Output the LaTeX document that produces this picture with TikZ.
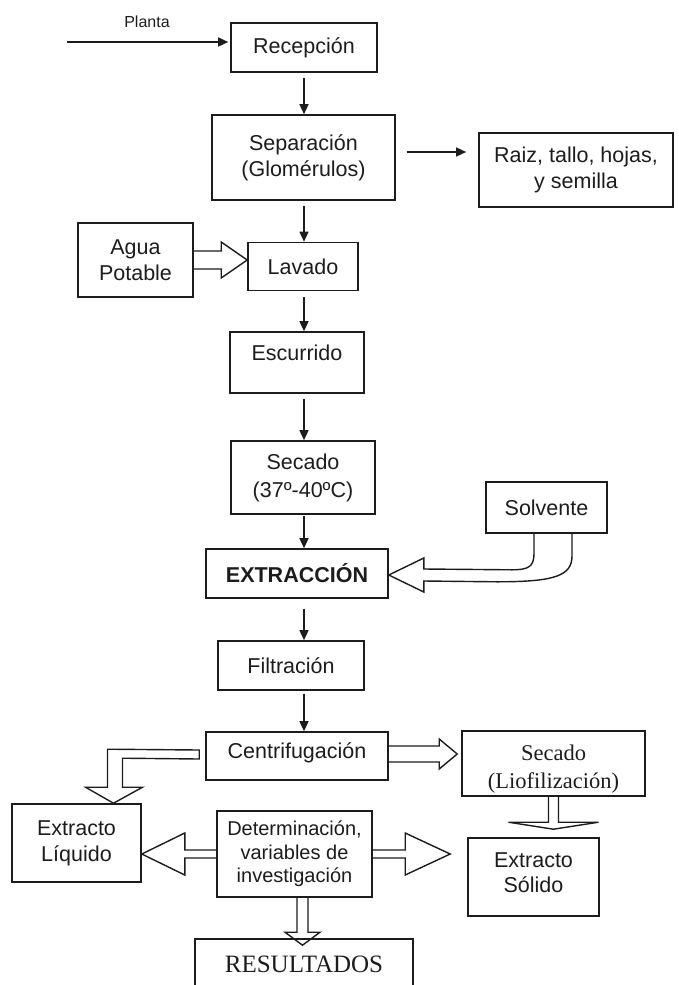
\documentclass[tikz,border=0pt]{standalone}
\usepackage{fontspec}
\setmainfont{Liberation Sans}
\newfontfamily\romanface{Liberation Serif}
\usetikzlibrary{arrows.meta,calc}
\definecolor{ink}{RGB}{28,28,28}

\begin{document}
\begin{tikzpicture}[x=1pt,y=-1pt,
  every node/.style={text=ink},
  box/.style={draw=ink,line width=1.6pt,inner sep=0pt,align=center,
    font=\fontsize{21.5}{26}\selectfont},
  romanbox/.style={box,font=\romanface\fontsize{24}{28}\selectfont},
  arr/.style={draw=ink,line width=1.4pt,-{Triangle[length=10pt,width=9pt]}},
  hollow/.style={draw=ink,line width=1.4pt,line join=miter}]

\useasboundingbox (0,0) rectangle (678,985);

% process boxes
\node[box,minimum width=146pt,minimum height=49pt] (rec) at (304,47.5) {Recepción};
\node[box,minimum width=183pt,minimum height=85pt] (sep) at (303.5,157.5) {Separación\\(Glomérulos)};
\node[box,minimum width=194pt,minimum height=74pt] (raiz) at (576,170) {Raiz, tallo, hojas,\\y semilla};
\node[box,minimum width=115pt,minimum height=74pt] (agua) at (135.5,260) {Agua\\Potable};
\node[box,minimum width=110pt,minimum height=48pt] (lav) at (303,266.5) {Lavado};
\node[box,minimum width=134pt,minimum height=61pt,text depth=19pt] (esc) at (297,362.5) {Escurrido};
\node[box,minimum width=144pt,minimum height=73pt,font=\fontsize{21.5}{28}\selectfont] (sec) at (303,477.5) {Secado\\(37º-40ºC)};
\node[box,minimum width=121pt,minimum height=51pt] (solv) at (546.5,507.5) {Solvente};
\node[box,minimum width=182pt,minimum height=49pt,font=\bfseries\fontsize{21.5}{26}\selectfont] (ext) at (297,573.5) {EXTRACCIÓN};
\node[box,minimum width=146pt,minimum height=49pt] (fil) at (291,665.5) {Filtración};
\node[box,minimum width=182pt,minimum height=48pt,text depth=10pt] (cen) at (297,756) {Centrifugación};
% the two lines sit low in this box, against its bottom edge
\node[box,align=none,minimum width=183pt,minimum height=65pt,
  font=\romanface\fontsize{22.5}{28}\selectfont] (liof) at (553.5,763.5)
  {\raisebox{-11pt}[0pt][0pt]{\begin{tabular}{@{}c@{}}Secado\\(Liofilización)\end{tabular}}};
\node[box,minimum width=129pt,minimum height=78pt] (liq) at (76.5,843) {Extracto\\Líquido};
\node[box,minimum width=155pt,minimum height=86pt,font=\fontsize{20}{23.5}\selectfont] (det) at (294.5,854) {Determinación,\\variables de\\investigación};
\node[box,minimum width=131pt,minimum height=78pt,font=\fontsize{21.5}{25}\selectfont,text depth=9pt] (sol) at (533.5,877) {Extracto\\Sólido};
\node[romanbox,minimum width=218pt,minimum height=50pt,font=\romanface\fontsize{25}{28}\selectfont] (res) at (304,964) {RESULTADOS};

% incoming plant
\coordinate (pl) at (67,42);
\node[font=\fontsize{16}{19}\selectfont] (plabel) at (147,22) {Planta};
\draw[arr,shorten >=2pt] (pl) -- (pl -| rec.west);

% main line of solid arrows
\coordinate (axis) at (304,0);
\draw[arr,shorten <=5pt] (rec.south -| axis) -- (sep.north -| axis);
\draw[arr,shorten <=5pt] (sep.south -| axis) -- (lav.north -| axis);
\draw[arr,shorten <=6pt] (lav.south -| axis) -- (esc.north -| axis);
\draw[arr,shorten <=5pt] (esc.south -| axis) -- (sec.north -| axis);
\draw[arr,shorten <=1pt] (sec.south -| axis) -- (ext.north -| axis);
\draw[arr,shorten <=10pt] (ext.south -| axis) -- (fil.north -| axis);
\draw[arr,shorten <=3pt] (fil.south -| axis) -- (cen.north -| axis);

% separated residues
\draw[arr,shorten <=11pt,shorten >=12pt] (sep.east |- 0,152) -- (raiz.west |- 0,152);

% water into washing
\coordinate (t1) at (lav.west |- agua.east);
\draw[hollow] ($(agua.east)+(0,-9)$) -- ($(t1)+(-26,-9)$) -- ($(t1)+(-26,-18)$) -- (t1)
  -- ($(t1)+(-26,18)$) -- ($(t1)+(-26,9)$) -- ($(agua.east)+(0,9)$);

% solvent into extraction
\coordinate (t2) at ($(ext.east)+(0,1.5)$);
\coordinate (si) at ($(solv.south)+(-12.5,0)$);
\coordinate (so) at ($(solv.south)+(25.5,0)$);
\draw[hollow] (si) -- ($(si)+(0,20)$) .. controls ($(si)+(0,33)$) and ($(si)+(-6,36)$) .. ($(si)+(-22,36)$)
  -- ($(t2)+(35,-6)$) -- ($(t2)+(35,-17)$) -- (t2) -- ($(t2)+(35,17)$) -- ($(t2)+(35,6)$)
  -- ($(so)+(-75,48)$) .. controls ($(so)+(-17,48)$) and ($(so)+(0,42)$) .. ($(so)+(0,22)$) -- (so);

% centrifuge to freeze drying
\coordinate (t3) at ($(liof.west |- cen.east)+(-4,-2)$);
\coordinate (c3) at (cen.east |- t3);
\draw[hollow] ($(c3)+(0,-8)$) -- ($(t3)+(-18,-8)$) -- ($(t3)+(-18,-15)$) -- (t3)
  -- ($(t3)+(-18,15)$) -- ($(t3)+(-18,8)$) -- ($(c3)+(0,8)$);

% centrifuge to liquid extract
\coordinate (t4) at ($(liq.north)+(37,0)$);
\coordinate (c4) at ($(cen.west)+(-6,0)$);
\draw[hollow] ($(c4)+(0,3)$) -- ($(c4)+(0,-6)$) -- ($(t4)+(-6,-54)$) -- ($(t4)+(-6,-16)$)
  -- ($(t4)+(-28,-16)$) -- (t4) -- ($(t4)+(29,-16)$) -- ($(t4)+(9,-16)$)
  -- ($(t4)+(9,-45)$) -- cycle;

% determination to both extracts
\coordinate (t5) at (liq.east |- det.west);
\draw[hollow] ($(det.west)+(0,-4)$) -- ($(t5)+(43,-4)$) -- ($(t5)+(43,-21)$) -- (t5)
  -- ($(t5)+(43,21)$) -- ($(t5)+(43,4)$) -- ($(det.west)+(0,4)$);
\coordinate (t6) at ($(sol.west |- det.east)+(-17,0)$);
\draw[hollow] ($(det.east)+(0,-4)$) -- ($(t6)+(-45,-4)$) -- ($(t6)+(-45,-21)$) -- (t6)
  -- ($(t6)+(-45,21)$) -- ($(t6)+(-45,4)$) -- ($(det.east)+(0,4)$);

% freeze drying to solid extract
\coordinate (t7) at ($(liof.south |- sol.north)+(0,-8)$);
\draw[hollow] ($(liof.south)+(-5,0)$) -- ($(t7)+(-5,-7)$) -- ($(t7)+(-45,-7)$) -- (t7)
  -- ($(t7)+(45,-7)$) -- ($(t7)+(5,-7)$) -- ($(liof.south)+(5,0)$);

% determination to results
\coordinate (c8) at ($(det.south)+(8,0)$);
\coordinate (t8) at ($(c8 |- res.north)+(0,7)$);
\draw[hollow] ($(c8)+(-5.5,0)$) -- ($(t8)+(-5.5,-13)$) -- ($(t8)+(-17.5,-13)$) -- (t8)
  -- ($(t8)+(17.5,-13)$) -- ($(t8)+(5.5,-13)$) -- ($(c8)+(5.5,0)$);
\end{tikzpicture}
\end{document}
